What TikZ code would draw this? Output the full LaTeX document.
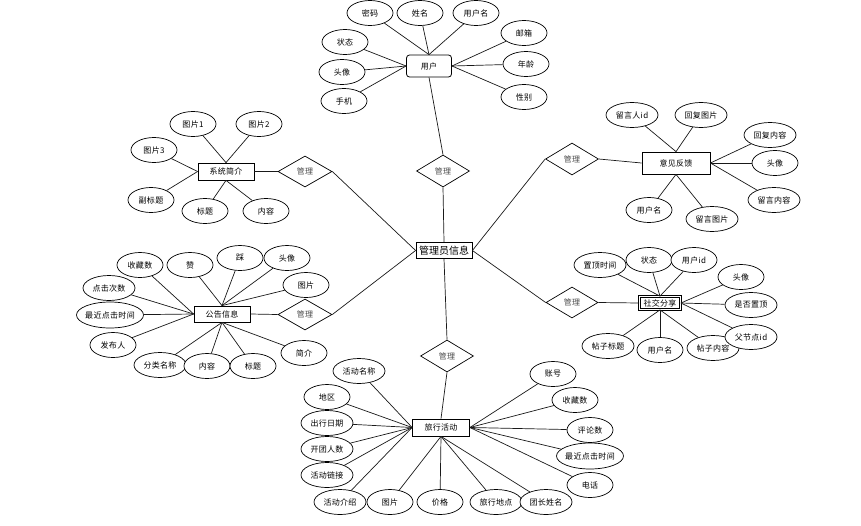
\documentclass[tikz,border=0pt]{standalone}
\usepackage{fontspec}
\newfontfamily\cjk{Noto Sans CJK SC}[LetterSpace=4]
\newfontfamily\cjkbig{Noto Sans CJK SC}
\usetikzlibrary{shapes.geometric}
\begin{document}
\begin{tikzpicture}[x=1pt,y=-1pt,
  attr/.style={ellipse, draw=black, line width=0.7pt, fill=white, minimum width=46pt, minimum height=25pt, inner sep=0pt, font=\cjk\fontsize{8}{9}\selectfont},
  wattr/.style={attr, minimum width=52pt},
  xattr/.style={attr, minimum width=67pt, minimum height=26pt, inner xsep=-6pt},
  ent/.style={rectangle, draw=black, line width=0.8pt, fill=white, inner sep=1pt, font=\cjk\fontsize{8}{9}\selectfont},
  rel/.style={diamond, draw=black, line width=0.7pt, fill=white, inner sep=0pt, minimum width=53pt, minimum height=32pt, text=black!70, font=\cjk\fontsize{8}{9}\selectfont},
  link/.style={draw=black!90, line width=0.7pt}]
\useasboundingbox (0,0) rectangle (861,525);

% ---------- central ----------
\node[ent, minimum width=56pt, minimum height=16pt, font=\cjkbig\fontsize{10}{12}\selectfont] (admin) at (444,250.5) {管理员信息};

% ---------- user ----------
\node[ent, rounded corners=3pt, minimum width=45pt, minimum height=22pt] (user) at (429,66) {用户};
\node[attr] (mima) at (370,13) {密码};
\node[attr] (xingming) at (420,13) {姓名};
\node[attr] (yhm) at (476,13) {用户名};
\node[attr] (youxiang) at (524,33) {邮箱};
\node[attr] (nianling) at (526,64) {年龄};
\node[attr] (xingbie) at (524,97) {性别};
\node[attr] (zhuangtai) at (345,42) {状态};
\node[attr] (touxiang) at (342,72) {头像};
\node[attr] (shouji) at (344,101) {手机};
\node[rel] (d1) at (443,171) {管理};
\foreach \a in {mima,xingming,yhm} \draw[link] (\a) -- (user.north);
\foreach \a in {zhuangtai,touxiang,shouji} \draw[link] (\a) -- (user.west);
\foreach \a in {youxiang,nianling,xingbie} \draw[link] (\a) -- (user.east);
\draw[link] (user.south) -- (d1.north);
\draw[link] (d1.south) -- (admin.north);

% ---------- system intro ----------
\node[ent, minimum width=56pt, minimum height=17pt] (sys) at (226,171.5) {系统简介};
\node[rel, minimum width=54pt, minimum height=31pt] (d2) at (305,171.5) {管理};
\node[attr] (tp1) at (193,124) {图片1};
\node[attr] (tp2) at (259,124) {图片2};
\node[attr] (tp3) at (154,150) {图片3};
\node[attr] (fbt) at (151,200) {副标题};
\node[attr] (bt) at (205,211) {标题};
\node[attr] (nr) at (266,211) {内容};
\foreach \a in {tp1,tp2} \draw[link] (\a) -- (sys.north);
\foreach \a in {tp3,fbt} \draw[link] (\a) -- (sys.west);
\foreach \a in {bt,nr} \draw[link] (\a) -- (sys.south);
\draw[link] (sys.east) -- (d2.west);
\draw[link] (d2.east) -- (admin.west);

% ---------- feedback ----------
\node[ent, minimum width=68pt, minimum height=22pt] (fb) at (676,163) {意见反馈};
\node[rel] (d3) at (572,159) {管理};
\node[wattr] (lyrid) at (632,115) {留言人id};
\node[wattr] (hftp) at (701,115) {回复图片};
\node[wattr] (hfnr) at (770,135) {回复内容};
\node[attr] (fbtx) at (775,163) {头像};
\node[wattr] (lynr) at (774,200) {留言内容};
\node[attr] (fbyhm) at (649,210) {用户名};
\node[wattr] (lytp) at (712,219) {留言图片};
\foreach \a in {lyrid,hftp} \draw[link] (\a) -- (fb.north);
\foreach \a in {hfnr,fbtx,lynr} \draw[link] (\a) -- (fb.east);
\foreach \a in {fbyhm,lytp} \draw[link] (\a) -- (fb.south);
\draw[link] (d3.east) -- (fb.west);
\draw[link] (d3.west) -- (admin.east);

% ---------- notice ----------
\node[ent, minimum width=56pt, minimum height=16pt] (an) at (222,314) {公告信息};
\node[rel, minimum width=54pt, minimum height=31pt] (d4) at (305,314.5) {管理};
\node[attr] (scs) at (140,265) {收藏数};
\node[attr] (zan) at (190,265) {赞};
\node[attr] (cai) at (240,258) {踩};
\node[attr] (antx) at (287,258) {头像};
\node[attr] (antp) at (306,285) {图片};
\node[wattr] (djcs) at (109,288) {点击次数};
\node[xattr] (zjdj) at (110,315) {最近点击时间};
\node[attr] (fbr) at (113,345) {发布人};
\node[wattr] (flmc) at (160,365) {分类名称};
\node[attr] (annr) at (207,366) {内容};
\node[attr] (anbt) at (253,366) {标题};
\node[attr] (jj) at (304,353) {简介};
\foreach \a in {scs,djcs,zjdj,fbr} \draw[link] (\a) -- (an.west);
\foreach \a in {zan,cai,antx,antp} \draw[link] (\a) -- (an.north);
\foreach \a in {flmc,annr,anbt,jj} \draw[link] (\a) -- (an.south);
\draw[link] (an.east) -- (d4.west);
\draw[link] (d4.east) -- (admin.west);

% ---------- social sharing ----------
\node[ent, double, double distance=1pt, minimum width=41pt, minimum height=13pt] (sh) at (660,303) {社交分享};
\node[rel, minimum width=52pt, minimum height=31pt] (d5) at (572,302.5) {管理};
\node[wattr] (zdsj) at (600,265) {置顶时间};
\node[attr] (shzt) at (649,260) {状态};
\node[attr] (yhid) at (694,260) {用户id};
\node[attr] (shtx) at (741,277) {头像};
\node[wattr] (sfzd) at (751,305) {是否置顶};
\node[wattr] (tznr) at (713,348) {帖子内容};
\node[wattr] (fjd) at (751,337) {父节点id};
\node[wattr] (tzbt) at (608,346) {帖子标题};
\node[attr] (shyhm) at (660,350) {用户名};
\foreach \a in {zdsj,shzt,yhid} \draw[link] (\a) -- (sh.north);
\foreach \a in {shtx,sfzd,fjd} \draw[link] (\a) -- (sh.east);
\foreach \a in {tzbt,shyhm,tznr} \draw[link] (\a) -- (sh.south);
\draw[link] (d5.east) -- (sh.west);
\draw[link] (d5.west) -- (admin.east);

% ---------- travel activity ----------
\node[ent, minimum width=57pt, minimum height=17pt] (tr) at (441,427.5) {旅行活动};
\node[rel] (d6) at (447,356) {管理};
\node[wattr] (hdmc) at (359,371) {活动名称};
\node[attr] (dq) at (327,397) {地区};
\node[wattr] (cxrq) at (327,423) {出行日期};
\node[wattr] (ktrs) at (327,449) {开团人数};
\node[wattr] (hdlj) at (327,475) {活动链接};
\node[wattr] (hdjs) at (340,502) {活动介绍};
\node[attr] (trtp) at (390,502) {图片};
\node[attr] (jg) at (440,502) {价格};
\node[wattr] (lxdd) at (496,502) {旅行地点};
\node[wattr] (tzxm) at (546,502) {团长姓名};
\node[attr] (zh) at (553,374) {账号};
\node[attr] (trscs) at (575,400) {收藏数};
\node[attr] (pls) at (590,430) {评论数};
\node[xattr] (trzj) at (590,456) {最近点击时间};
\node[attr] (dh) at (590,485) {电话};
\foreach \a in {hdmc,dq,cxrq,ktrs,hdlj,hdjs} \draw[link] (\a) -- (tr.west);
\foreach \a in {trtp,jg,lxdd,tzxm} \draw[link] (\a) -- (tr.south);
\foreach \a in {zh,trscs,pls,trzj,dh} \draw[link] (\a) -- (tr.east);
\draw[link] (admin.south) -- (d6.north);
\draw[link] (d6.south) -- (tr.north);
\end{tikzpicture}
\end{document}
